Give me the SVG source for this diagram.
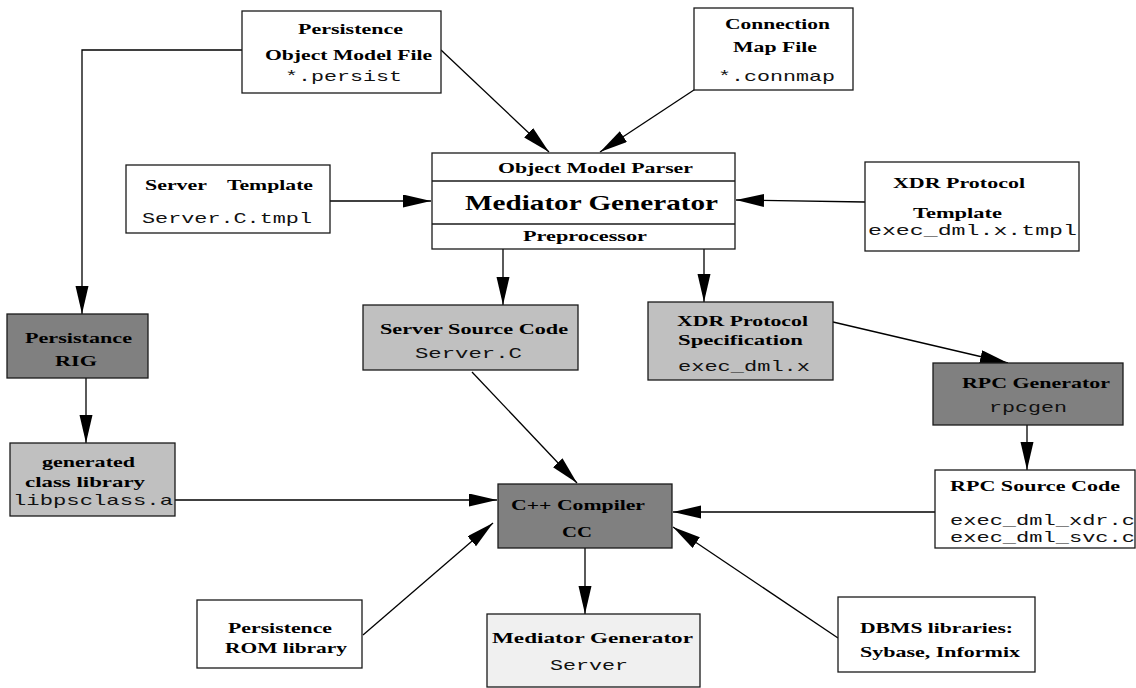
<svg xmlns="http://www.w3.org/2000/svg" width="1136" height="688" viewBox="0 0 1136 688">
  <style>
    .box { stroke: #1a1a1a; stroke-width: 1.3; }
    .white { fill: #ffffff; }
    .dark { fill: #808080; }
    .light { fill: #c0c0c0; }
    .pale { fill: #f0f0f0; }
    .b { font-family: "Liberation Serif", "Times New Roman", serif; font-weight: bold; font-size: 15px; fill: #000; }
    .big { font-size: 22px; }
    .m { font-family: "Liberation Mono", "Courier New", monospace; font-size: 15px; fill: #111; }
    .edge { stroke: #000; stroke-width: 1.3; fill: none; marker-end: url(#head); }
  </style>
  <defs>
    <marker id="head" markerUnits="userSpaceOnUse" markerWidth="28" markerHeight="14" refX="28" refY="6.5" orient="auto">
      <path d="M0,0 L28,6.5 L0,13 z" fill="#000"/>
    </marker>
  </defs>
  <rect width="1136" height="688" fill="#ffffff"/>

  <g id="connectors">
    <line class="edge" x1="441" y1="50" x2="549" y2="152"/>
    <line class="edge" x1="700" y1="86" x2="600" y2="152"/>
    <line class="edge" x1="330" y1="201" x2="431" y2="201"/>
    <line class="edge" x1="865" y1="202" x2="736" y2="200"/>
    <line class="edge" x1="503" y1="249" x2="503" y2="305"/>
    <line class="edge" x1="704" y1="249" x2="704" y2="302"/>
    <polyline class="edge" points="242,50 82,50 82,314"/>
    <line class="edge" x1="86" y1="378" x2="86" y2="443"/>
    <line class="edge" x1="833" y1="322" x2="1008" y2="363"/>
    <line class="edge" x1="1027" y1="425" x2="1027" y2="470"/>
    <line class="edge" x1="472" y1="372" x2="577" y2="483"/>
    <line class="edge" x1="175" y1="500" x2="497" y2="500"/>
    <line class="edge" x1="935" y1="512" x2="673" y2="512"/>
    <line class="edge" x1="363" y1="635" x2="493" y2="523"/>
    <line class="edge" x1="838" y1="638" x2="673" y2="527"/>
    <line class="edge" x1="585" y1="548" x2="585" y2="614"/>
  </g>

  <g id="om-file">
    <rect class="box white" x="242" y="11" width="199" height="82"/>
    <text class="b" x="298" y="34" textLength="105" lengthAdjust="spacingAndGlyphs">Persistence</text>
    <text class="b" x="265" y="60" textLength="167" lengthAdjust="spacingAndGlyphs">Object Model File</text>
    <text class="m" x="285" y="81" textLength="117" lengthAdjust="spacingAndGlyphs">*.persist</text>
  </g>

  <g id="connmap-file">
    <rect class="box white" x="694" y="8" width="159" height="82"/>
    <text class="b" x="725" y="29" textLength="105" lengthAdjust="spacingAndGlyphs">Connection</text>
    <text class="b" x="733" y="52" textLength="84" lengthAdjust="spacingAndGlyphs">Map File</text>
    <text class="m" x="718" y="81" textLength="117" lengthAdjust="spacingAndGlyphs">*.connmap</text>
  </g>

  <g id="server-template">
    <rect class="box white" x="126" y="165" width="204" height="68"/>
    <text class="b" x="145" y="190" textLength="62" lengthAdjust="spacingAndGlyphs">Server</text>
    <text class="b" x="227" y="190" textLength="86" lengthAdjust="spacingAndGlyphs">Template</text>
    <text class="m" x="142" y="223" textLength="170" lengthAdjust="spacingAndGlyphs">Server.C.tmpl</text>
  </g>

  <g id="mediator-generator">
    <rect class="box white" x="432" y="153" width="303" height="96"/>
    <line class="box" x1="432" y1="181" x2="735" y2="181"/>
    <line class="box" x1="432" y1="224" x2="735" y2="224"/>
    <text class="b" x="498" y="173" textLength="195" lengthAdjust="spacingAndGlyphs">Object Model Parser</text>
    <text class="b big" x="465" y="210" textLength="253" lengthAdjust="spacingAndGlyphs">Mediator Generator</text>
    <text class="b" x="523" y="241" textLength="124" lengthAdjust="spacingAndGlyphs">Preprocessor</text>
  </g>

  <g id="xdr-template">
    <rect class="box white" x="865" y="162" width="214" height="89"/>
    <text class="b" x="893" y="188" textLength="132" lengthAdjust="spacingAndGlyphs">XDR Protocol</text>
    <text class="b" x="913" y="218" textLength="89" lengthAdjust="spacingAndGlyphs">Template</text>
    <text class="m" x="868" y="235" textLength="209" lengthAdjust="spacingAndGlyphs">exec_dml.x.tmpl</text>
  </g>

  <g id="persistance-rig">
    <rect class="box dark" x="7" y="314" width="141" height="64"/>
    <text class="b" x="25" y="343" textLength="107" lengthAdjust="spacingAndGlyphs">Persistance</text>
    <text class="b" x="55" y="366" textLength="42" lengthAdjust="spacingAndGlyphs">RIG</text>
  </g>

  <g id="class-library">
    <rect class="box light" x="10" y="443" width="165" height="73"/>
    <text class="b" x="42" y="467" textLength="93" lengthAdjust="spacingAndGlyphs">generated</text>
    <text class="b" x="25" y="487" textLength="120" lengthAdjust="spacingAndGlyphs">class library</text>
    <text class="m" x="13" y="505" textLength="160" lengthAdjust="spacingAndGlyphs">libpsclass.a</text>
  </g>

  <g id="server-source">
    <rect class="box light" x="363" y="305" width="215" height="65"/>
    <text class="b" x="380" y="334" textLength="188" lengthAdjust="spacingAndGlyphs">Server Source Code</text>
    <text class="m" x="415" y="358" textLength="107" lengthAdjust="spacingAndGlyphs">Server.C</text>
  </g>

  <g id="xdr-spec">
    <rect class="box light" x="648" y="302" width="185" height="78"/>
    <text class="b" x="677" y="326" textLength="131" lengthAdjust="spacingAndGlyphs">XDR Protocol</text>
    <text class="b" x="678" y="345" textLength="125" lengthAdjust="spacingAndGlyphs">Specification</text>
    <text class="m" x="678" y="371" textLength="132" lengthAdjust="spacingAndGlyphs">exec_dml.x</text>
  </g>

  <g id="rpc-generator">
    <rect class="box dark" x="933" y="363" width="190" height="62"/>
    <text class="b" x="962" y="388" textLength="148" lengthAdjust="spacingAndGlyphs">RPC Generator</text>
    <text class="m" x="989" y="412" textLength="78" lengthAdjust="spacingAndGlyphs">rpcgen</text>
  </g>

  <g id="rpc-source">
    <rect class="box white" x="935" y="470" width="200" height="78"/>
    <text class="b" x="950" y="491" textLength="170" lengthAdjust="spacingAndGlyphs">RPC Source Code</text>
    <text class="m" x="950" y="525" textLength="185" lengthAdjust="spacingAndGlyphs">exec_dml_xdr.c</text>
    <text class="m" x="950" y="542" textLength="185" lengthAdjust="spacingAndGlyphs">exec_dml_svc.c</text>
  </g>

  <g id="cc-compiler">
    <rect class="box dark" x="498" y="484" width="174" height="64"/>
    <text class="b" x="511" y="510" textLength="134" lengthAdjust="spacingAndGlyphs">C++ Compiler</text>
    <text class="b" x="562" y="537" textLength="30" lengthAdjust="spacingAndGlyphs">CC</text>
  </g>

  <g id="rom-library">
    <rect class="box white" x="197" y="600" width="165" height="68"/>
    <text class="b" x="228" y="633" textLength="104" lengthAdjust="spacingAndGlyphs">Persistence</text>
    <text class="b" x="225" y="653" textLength="122" lengthAdjust="spacingAndGlyphs">ROM library</text>
  </g>

  <g id="mediator-server">
    <rect class="box pale" x="487" y="614" width="213" height="73"/>
    <text class="b" x="492" y="643" textLength="201" lengthAdjust="spacingAndGlyphs">Mediator Generator</text>
    <text class="m" x="550" y="670" textLength="78" lengthAdjust="spacingAndGlyphs">Server</text>
  </g>

  <g id="dbms-libraries">
    <rect class="box white" x="838" y="597" width="197" height="75"/>
    <text class="b" x="860" y="633" textLength="153" lengthAdjust="spacingAndGlyphs">DBMS libraries:</text>
    <text class="b" x="860" y="657" textLength="160" lengthAdjust="spacingAndGlyphs">Sybase, Informix</text>
  </g>
</svg>
